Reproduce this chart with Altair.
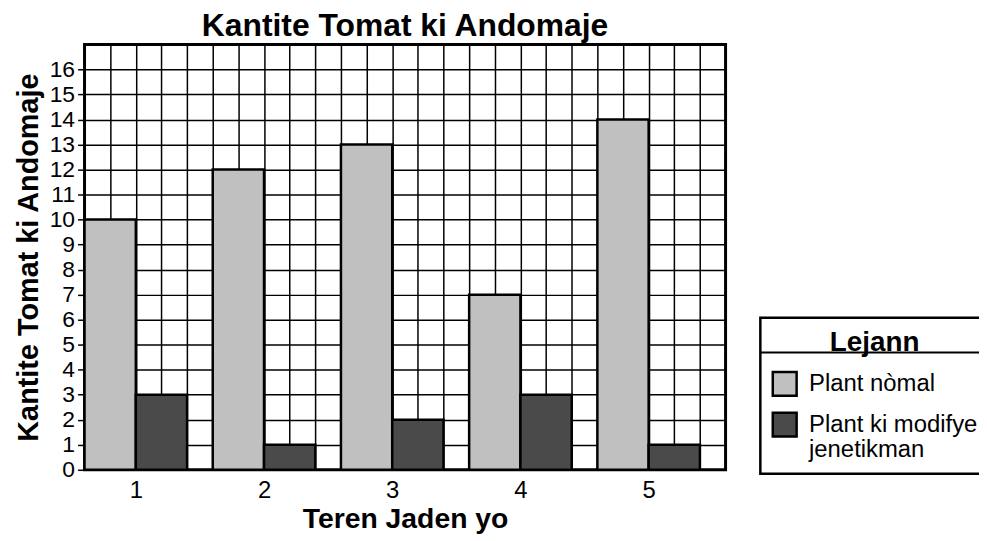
import json
import altair as alt
import pandas as pd

# ---- data ----
fields = ["1", "2", "3", "4", "5"]
normal_counts = [10, 12, 13, 7, 14]
gm_counts = [3, 1, 2, 3, 1]
series = ["Plant nòmal", "Plant ki modifye jenetikman"]
series_lines = [["Plant nòmal"], ["Plant ki modifye", "jenetikman"]]
series_colors = ["#c0c0c0", "#4a4a4a"]
y_ticks = list(range(0, 17))

# 5 grid columns per field: 2 for normal bar, 2 for GM bar, 1 empty
COLS_PER_FIELD = 5
BAR_COLS = 2

rows = []
for i, f in enumerate(fields):
    for j, (s, vals) in enumerate(zip(series, [normal_counts, gm_counts])):
        start = i * COLS_PER_FIELD + j * BAR_COLS
        rows.append({"field": f, "series": s, "value": vals[i],
                     "x0": start, "x1": start + BAR_COLS})
df = pd.DataFrame(rows)

n_cols = len(fields) * COLS_PER_FIELD
label_expr = (f"(datum.value - 2) % {COLS_PER_FIELD} == 0 && datum.value < {n_cols} ? "
              f"{json.dumps(fields)}[(datum.value - 2) / {COLS_PER_FIELD}] : ''")

legend_expr = " : ".join(
    f"datum.label == {json.dumps(' '.join(l))} ? {json.dumps(l)}" for l in series_lines
) + " : datum.label"

FONT = "Liberation Sans"

x_enc = alt.X("x0:Q", title="Teren Jaden yo",
              scale=alt.Scale(domain=[0, n_cols], nice=False, zero=True),
              axis=alt.Axis(values=list(range(0, n_cols + 1)), grid=True, ticks=False,
                            domain=False, labelExpr=label_expr, labelFontSize=24,
                            labelPadding=9, labelColor="black", labelFont=FONT,
                            gridColor="black", gridWidth=1.5, gridOpacity=1,
                            titleFontSize=28.5, titleFontWeight="bold", titleFont=FONT,
                            titleColor="black", titlePadding=2, labelFlush=False,
                            labelOverlap=False))
y_enc = alt.Y("value:Q", title="Kantite Tomat ki Andomaje",
              scale=alt.Scale(domain=[0, 17], nice=False),
              axis=alt.Axis(values=y_ticks, grid=True, tickSize=7, tickColor="black",
                            tickWidth=1.5, domain=False, labelFontSize=23, labelPadding=3,
                            labelColor="black", labelFont=FONT, gridColor="black",
                            gridWidth=1.5, gridOpacity=1, titleFontSize=29,
                            titleFontWeight="bold", titleFont=FONT, titleColor="black",
                            titlePadding=6, labelFlush=False, labelOverlap=False))

bars = alt.Chart(df).mark_bar(stroke="black", strokeWidth=2.5, opacity=1).encode(
    x=x_enc,
    x2="x1:Q",
    y=y_enc,
    y2=alt.datum(0),
    color=alt.Color("series:N", scale=alt.Scale(domain=series, range=series_colors),
                    legend=alt.Legend(title="Lejann", orient="none", legendX=680,
                                      legendY=275, titleAnchor="middle",
                                      symbolType="square", symbolSize=576,
                                      symbolStrokeColor="black", symbolStrokeWidth=2.5,
                                      symbolOpacity=1, labelExpr=legend_expr,
                                      labelFontSize=24, labelFont=FONT, labelColor="black",
                                      labelOffset=11, labelLimit=400,
                                      titleFontSize=28, titleFont=FONT, titleColor="black",
                                      titleFontWeight="bold", titlePadding=14,
                                      rowPadding=6, padding=11,
                                      strokeColor="black")),
)

sep = alt.Chart(pd.DataFrame({"k": [0]})).mark_rule(color="black", strokeWidth=2).encode(
    x=alt.value(680), x2=alt.value(960), y=alt.value(310)
)

chart = alt.layer(bars, sep).properties(
    width=645, height=428,
    title=alt.Title("Kantite Tomat ki Andomaje", fontSize=32, fontWeight="bold",
                    font=FONT, color="black", anchor="middle", offset=1),
    autosize=alt.AutoSizeParams(type="none"),
    padding={"left": 77, "top": 35, "right": 255, "bottom": 70},
).configure_view(stroke="black", strokeWidth=3).configure_legend(strokeWidth=2.5)

chart.save("out.html", embed_options={"renderer": "svg", "actions": False})
